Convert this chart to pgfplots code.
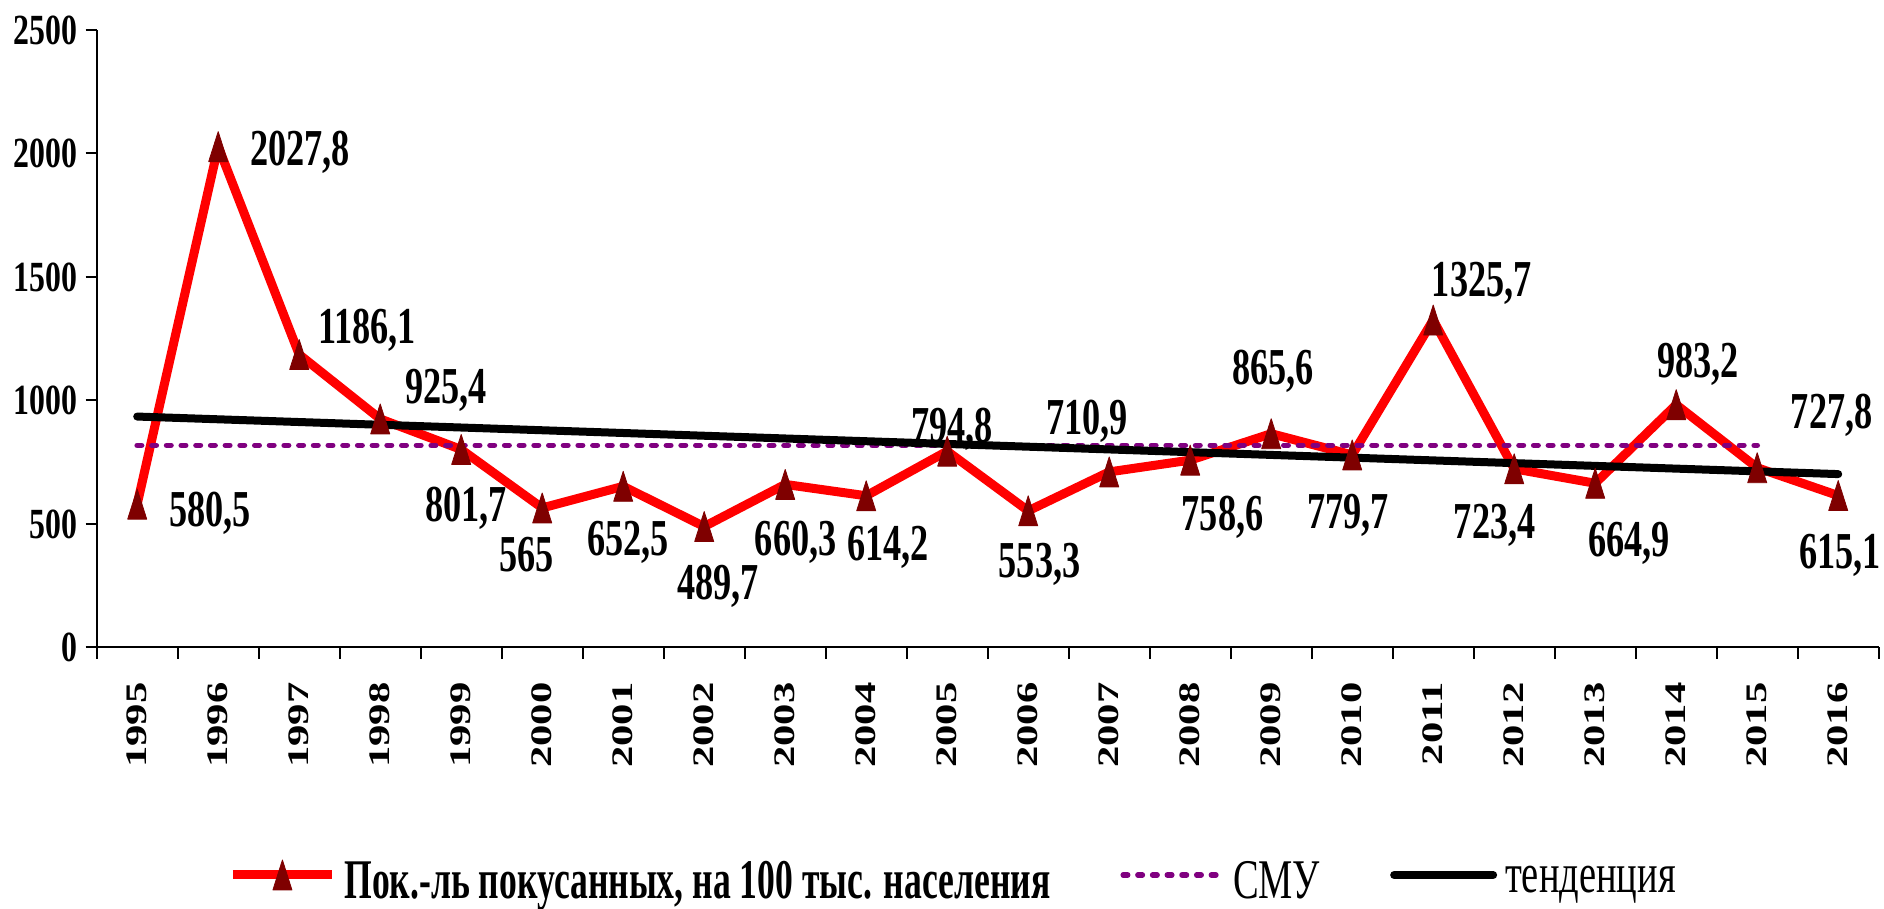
\documentclass[border=0pt]{standalone}
\usepackage{fontspec}
\setmainfont{Liberation Serif}
\newfontfamily\fA{Liberation Serif}[FakeStretch=0.70]
\newfontfamily\fT{Liberation Serif}[FakeStretch=0.74]
\newfontfamily\fY{Liberation Serif}[FakeStretch=1.43]
\newfontfamily\fL{Liberation Serif}[FakeStretch=0.636]
\newfontfamily\fR{Liberation Serif}[FakeStretch=0.687]
\usepackage{pgfplots}
\pgfplotsset{compat=1.18}
\definecolor{cmu}{HTML}{800080}
\definecolor{mk}{HTML}{7F0000}
\pgfdeclareradialshading{bgshade}{\pgfpoint{0bp}{0bp}}{color(0bp)=(white); color(39bp)=(white); color(50bp)=(black!11); color(72bp)=(black!22)}
\tikzset{lbl/.style={font=\fA\bfseries\fontsize{25.9pt}{30pt}\selectfont, inner sep=0pt, text height=17.5pt, text depth=0pt, anchor=center}}
\begin{document}
\begin{tikzpicture}
\useasboundingbox (-48.35pt,-130.75pt) rectangle (893.65pt,323.75pt);
\shade[shading=bgshade] (-48.35pt,-130.75pt) rectangle (893.65pt,323.75pt);
\begin{axis}[
  at={(0pt,0pt)}, anchor=south west,
  scale only axis, width=891pt, height=308.75pt,
  xmin=-0.5, xmax=21.5, ymin=0, ymax=2500,
  clip=false,
  axis lines=left,
  axis line style={-, line width=1pt, black},
  tick align=outside, major tick length=5.5pt,
  tick style={line width=1pt, black},
  xtick={-0.5,0.5,...,21.5},
  x tick label as interval,
  xticklabels={1995,1996,1997,1998,1999,2000,2001,2002,2003,2004,2005,2006,2007,2008,2009,2010,2011,2012,2013,2014,2015,2016},
  xticklabel style={font=\fY\bfseries\fontsize{14.9pt}{16pt}\selectfont, rotate=90, anchor=east, inner sep=0pt},
  xticklabel shift=11.75pt,
  ytick={0,500,1000,1500,2000,2500},
  yticklabel style={font=\fT\bfseries\fontsize{21.5pt}{24pt}\selectfont, inner sep=0pt, anchor=east},
  yticklabel shift=3.9pt,
  /pgf/number format/1000 sep={},
  /pgf/number format/assume math mode=true,
  legend columns=3,
  legend style={at={(0.0737,-0.3774)}, anchor=west, draw=none, fill=none, inner sep=0pt,
    font=\fR\fontsize{28pt}{32pt}\selectfont,
    nodes={inner sep=0pt},
    /tikz/every odd column/.append style={column sep=4pt},
    /tikz/every even column/.append style={column sep=35pt}},
  legend image code/.code={\draw[mark repeat=2,mark phase=2,#1] plot coordinates {(0pt,3pt) (24.75pt,3pt) (49.5pt,3pt)};},
]
\addplot[red, line width=4.5pt, line join=round,
  mark=triangle*, mark size=10pt,
  mark options={solid, xscale=0.55, yshift=-2.5pt, fill=mk, draw=mk, line width=0.4pt}]
  coordinates {(0,580.5) (1,2027.8) (2,1186.1) (3,925.4) (4,801.7) (5,565) (6,652.5) (7,489.7) (8,660.3) (9,614.2) (10,794.8) (11,553.3) (12,710.9) (13,758.6) (14,865.6) (15,779.7) (16,1325.7) (17,723.4) (18,664.9) (19,983.2) (20,727.8) (21,615.1)};
\addplot[cmu, line width=2.8pt, dash pattern=on 2.2pt off 5.15pt, line cap=round]
  coordinates {(0,818.5) (20,818.5)};
\addplot[black, line width=4pt, line cap=round]
  coordinates {(0,935) (21,702)};
\legend{{\fL\bfseries Пок.-ль покусанных, на 100 тыс. населения}, {СМУ\hspace{7.5pt}}, тенденция}
\node[lbl] at (axis cs:0.90,561) {580,5};
\node[lbl] at (axis cs:2.01,2021) {2027,8};
\node[lbl] at (axis cs:2.84,1303) {1186,1};
\node[lbl] at (axis cs:3.81,1060) {925,4};
\node[lbl] at (axis cs:4.06,582) {801,7};
\node[lbl] at (axis cs:4.81,379) {565};
\node[lbl] at (axis cs:6.06,444) {652,5};
\node[lbl] at (axis cs:7.17,266) {489,7};
\node[lbl] at (axis cs:8.13,444) {660,3};
\node[lbl] at (axis cs:9.27,424) {614,2};
\node[lbl] at (axis cs:10.06,902) {794,8};
\node[lbl] at (axis cs:11.14,355) {553,3};
\node[lbl] at (axis cs:11.73,934) {710,9};
\node[lbl] at (axis cs:13.40,545) {758,6};
\node[lbl] at (axis cs:14.02,1137) {865,6};
\node[lbl] at (axis cs:14.95,553) {779,7};
\node[lbl] at (axis cs:16.60,1490) {1325,7};
\node[lbl] at (axis cs:16.76,513) {723,4};
\node[lbl] at (axis cs:18.42,440) {664,9};
\node[lbl] at (axis cs:19.27,1165) {983,2};
\node[lbl] at (axis cs:20.92,959) {727,8};
\node[lbl] at (axis cs:21.02,391) {615,1};
\end{axis}
\end{tikzpicture}
\end{document}
